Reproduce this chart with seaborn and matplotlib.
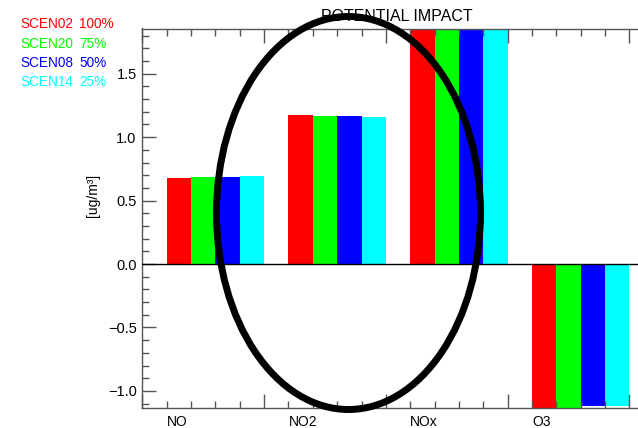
import matplotlib
matplotlib.use("Agg")
import matplotlib.pyplot as plt
import matplotlib.transforms as mtransforms
from matplotlib.patches import Ellipse
from matplotlib.ticker import MultipleLocator, FixedLocator
import seaborn as sns
import pandas as pd

plt.rcParams['font.family'] = ['Liberation Sans', 'DejaVu Sans']

# ---- data ----
pollutants = ["NO", "NO2", "NOx", "O3"]
scenarios = ["SCEN02", "SCEN20", "SCEN08", "SCEN14"]
scen_pct = ["100%", "75%", "50%", "25%"]
scen_colors = ["#ff0000", "#00ff00", "#0000ff", "#00ffff"]
vals_scen02 = [0.681, 1.176, 1.95, -1.15]
vals_scen20 = [0.687, 1.170, 1.94, -1.14]
vals_scen08 = [0.689, 1.168, 1.93, -1.117]
vals_scen14 = [0.694, 1.160, 1.92, -1.117]
title = "POTENTIAL IMPACT"
ylabel = "[ug/m\u00b3]"

series = [vals_scen02, vals_scen20, vals_scen08, vals_scen14]
rows = []
for s, v in zip(scenarios, series):
    for p, val in zip(pollutants, v):
        rows.append({"pollutant": p, "scenario": s, "value": val})
df = pd.DataFrame(rows)

W, H = 638, 428
fig = plt.figure(figsize=(W / 100, H / 100), dpi=100)
ax = fig.add_axes([142.3 / W, 1 - 407.7 / H, (W - 142.3) / W, (407.7 - 28.5) / H])

sns.barplot(data=df, x="pollutant", y="value", hue="scenario",
            order=pollutants, hue_order=scenarios,
            palette=dict(zip(scenarios, scen_colors)),
            width=0.8, saturation=1, legend=False, ax=ax,
            linewidth=0, errorbar=None)

ax.set_xlim(-0.6, 3.47)
ax.set_ylim(-1.132, 1.856)
ax.axhline(0, color="black", lw=1, zorder=3)

# axes styling
for side in ["left", "bottom", "top"]:
    ax.spines[side].set_color("#555555")
    ax.spines[side].set_linewidth(1)
ax.spines["right"].set_visible(False)

ax.yaxis.set_major_locator(MultipleLocator(0.5))
ax.yaxis.set_minor_locator(MultipleLocator(0.1))
ax.xaxis.set_major_locator(FixedLocator([-0.6, 0.4, 1.4, 2.4, 3.4]))
ax.xaxis.set_minor_locator(FixedLocator([-0.6 + 0.2 * i for i in range(21)]))
ax.set_xticklabels([])
ax.tick_params(axis="both", which="both", direction="in", color="#555555", width=1)
ax.tick_params(axis="x", which="both", top=True, bottom=True)
ax.tick_params(axis="y", which="both", left=True, right=False)
ax.tick_params(which="major", length=10)
ax.tick_params(which="minor", length=5)
ax.tick_params(axis="y", labelsize=10.5, pad=4, labelcolor="black")
ax.set_xlabel("")
ax.set_ylabel("")

# category labels, left aligned at group start
trans = mtransforms.blended_transform_factory(ax.transData, ax.transAxes)
for i, p in enumerate(pollutants):
    ax.text(i - 0.4, -(422 - 407.7) / (407.7 - 28.5), p, transform=trans,
            ha="left", va="center", fontsize=10, clip_on=False)

fig.text(93 / W, 1 - 195 / H, ylabel, rotation=90, ha="center", va="center", fontsize=10)
fig.text(397 / W, 1 - 16.5 / H, title, ha="center", va="center", fontsize=11.5)

# legend text
for k, (s, pct, c) in enumerate(zip(scenarios, scen_pct, scen_colors)):
    y = 1 - (24.5 + 19.3 * k) / H
    fig.text(20 / W, y, s, color=c, ha="left", va="center", fontsize=9.8)
    fig.text(79.3 / W, y, pct, color=c, ha="left", va="center", fontsize=9.8)

# annotation ellipse
ell = Ellipse((348.5 / W, 1 - 213 / H), 264 / W, 393 / H,
              transform=fig.transFigure, fill=False, edgecolor="black",
              linewidth=5.0, zorder=10)
fig.add_artist(ell)

fig.savefig("out.png", dpi=100)
